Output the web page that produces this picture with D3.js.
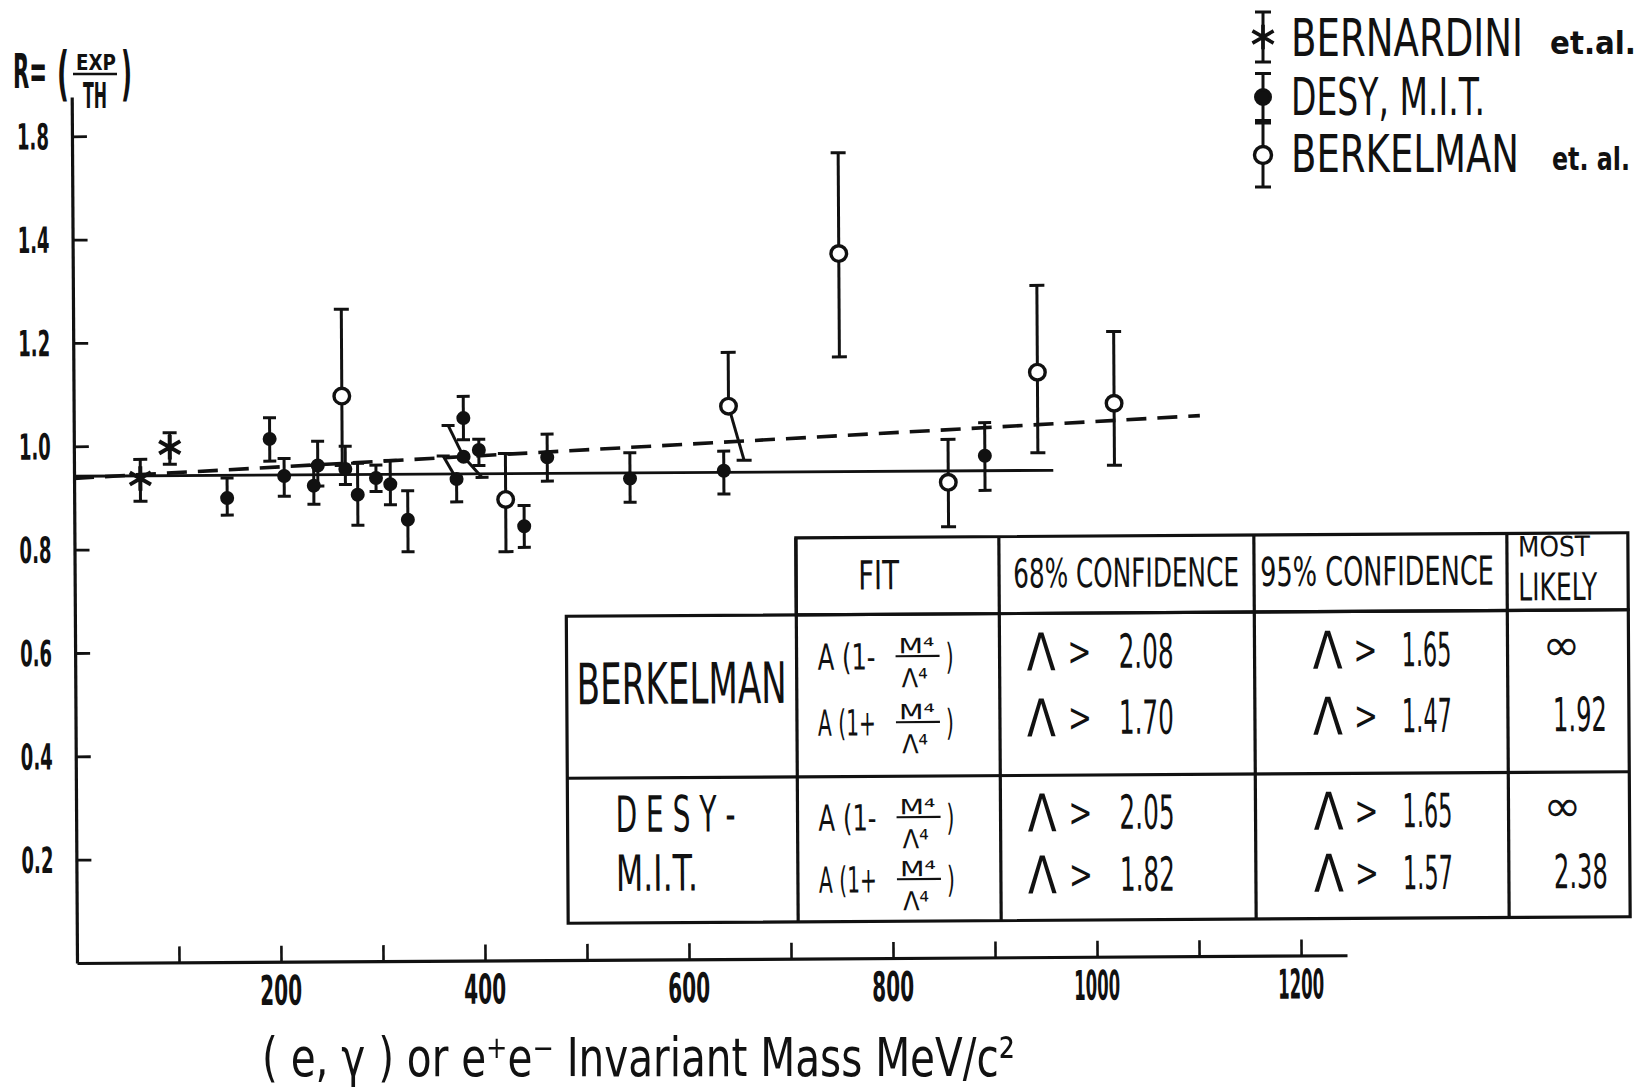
<!DOCTYPE html>
<html>
<head>
<meta charset="utf-8">
<script src="https://cdn.jsdelivr.net/npm/d3@7"></script>
<style>
  body { margin: 0; background: #fff; }
  text { font-family: "DejaVu Sans Condensed", "DejaVu Sans", sans-serif; fill: #111; }
</style>
</head>
<body>
<script>
// Values
const xTicks = [100, 200, 300, 400, 500, 600, 700, 800, 900, 1000, 1100, 1200];
const xLabelValues = [200, 400, 600, 800, 1000, 1200];
const xTickLabels = ["200", "400", "600", "800", "1000", "1200"];
const yTicks = [0.2, 0.4, 0.6, 0.8, 1.0, 1.2, 1.4, 1.6];
const yTickLabels = ["0.2", "0.4", "0.6", "0.8", "1.0", "1.2", "1.4", "1.8"]; // top label is printed "1.8" in the original

// BERNARDINI et al.
const bernMass = [65, 94];
const bernR = [0.937, 0.997];
const bernLow = [0.893, 0.964];
const bernHigh = [0.974, 1.025];

// DESY, M.I.T.
const desyMass = [150, 192, 206, 235, 239, 266, 278, 296, 310, 327, 375, 382, 382, 397, 441, 464, 545, 637, 893];
const desyR    = [0.898, 1.012, 0.940, 0.921, 0.960, 0.953, 0.903, 0.935, 0.923, 0.854, 0.932, 1.050, 0.975, 0.988, 0.840, 0.973, 0.931, 0.945, 0.971];
const desyLow  = [0.865, 0.969, 0.901, 0.885, 0.920, 0.923, 0.844, 0.909, 0.883, 0.792, 0.888, 1.008, 0.935, 0.958, 0.799, 0.927, 0.885, 0.900, 0.904];
const desyHigh = [0.937, 1.053, 0.974, 0.960, 1.007, 0.997, 0.964, 0.960, 0.969, 0.910, 0.977, 1.092, 1.036, 1.009, 0.880, 1.018, 0.981, 0.983, 1.035];
// a few bars are drawn slanted in the original (mass offset of the bar end)
const desyHighSlant = [0, 0, 0, 0, 0, 0, 0, 0, 0, 0, -13, 0, -15, 0, 0, 0, 0, 0, 0];
const desyLowSlant  = [0, 0, 0, 0, 0, 0, 0, 0, 0, 0, 0, 0, 18, 0, 0, 0, 0, 0, 0];

// BERKELMAN et al.
const berkMass = [263, 423, 642, 751, 857, 945, 1020];
const berkR    = [1.094, 0.892, 1.070, 1.364, 0.920, 1.132, 1.071];
const berkLow  = [0.960, 0.791, 0.965, 1.164, 0.834, 0.976, 0.951];
const berkHigh = [1.262, 0.981, 1.174, 1.559, 1.003, 1.300, 1.210];
const berkLowSlant = [0, 0, 15, 0, 0, 0, 0];

// fits
const fitSolidMass = [0, 960];
const fitSolidR = [0.942, 0.942];
const fitDashMass = [0, 1104];
const fitDashR = [0.938, 1.046];

// legend
const legendNames = ["BERNARDINI", "DESY, M.I.T.", "BERKELMAN"];
const legendNotes = ["et.al.", "", "et. al."];

// table
const tableHeaders = ["FIT", "68% CONFIDENCE", "95% CONFIDENCE"];
const fitSigns = ["-", "+", "-", "+"];
const conf68 = ["2.08", "1.70", "2.05", "1.82"];
const conf95 = ["1.65", "1.47", "1.65", "1.57"];
const mostLikely = ["∞", "1.92", "∞", "2.38"];

const ink = "#111";

const svg = d3.select("body").append("svg")
    .attr("width", 1641)
    .attr("height", 1091);
svg.append("rect").attr("width", 1641).attr("height", 1091).attr("fill", "#fff");

// put a text and squeeze it to the width it has in the figure
function label(parent, str, x, y, w, size, anchor = "start", weight = "bold") {
    const t = parent.append("text")
        .attr("font-size", size)
        .attr("font-weight", weight)
        .attr("text-anchor", anchor)
        .text(str);
    const k = w / t.node().getComputedTextLength();
    t.attr("transform", `translate(${x},${y}) scale(${k},1)`);
    return t;
}

const x = d3.scaleLinear().domain([0, 1245]).range([77, 1347]);
const y = d3.scaleLinear().domain([0, 1.676]).range([963, 97]);

// the scan is turned a little, the plot is turned with it
const plot = svg.append("g")
    .attr("transform", `rotate(-0.35, ${x(0)}, ${y(0)})`);

// Axes
plot.append("g")
    .attr("transform", "translate(0," + y(0) + ")")
    .call(d3.axisBottom(x).tickValues(xTicks).tickSizeInner(-16).tickSizeOuter(0).tickFormat(""))
    .call(g => g.select(".domain").attr("stroke", ink).attr("stroke-width", 3.2))
    .call(g => g.selectAll(".tick line").attr("stroke", ink).attr("stroke-width", 2.6));

plot.append("g")
    .attr("transform", "translate(" + x(0) + ",0)")
    .call(d3.axisLeft(y).tickValues(yTicks).tickSizeInner(-15).tickSizeOuter(0).tickFormat(""))
    .call(g => g.select(".domain").attr("stroke", ink).attr("stroke-width", 3.2))
    .call(g => g.selectAll(".tick line").attr("stroke", ink).attr("stroke-width", 2.8));

xLabelValues.forEach((v, i) =>
    label(plot, xTickLabels[i], x(v), 1006, xTickLabels[i].length > 3 ? 46 : 42, 41, "middle"));
yTicks.forEach((v, i) =>
    label(plot, yTickLabels[i], x(0) - 23, y(v) + 13, 32, 36, "end"));

// Fit lines
const line = d3.line().x(d => x(d[0])).y(d => y(d[1]));
plot.append("path")
    .attr("d", line(d3.zip(fitSolidMass, fitSolidR)))
    .attr("fill", "none").attr("stroke", ink).attr("stroke-width", 2.8);
plot.append("path")
    .attr("d", line(d3.zip(fitDashMass, fitDashR)))
    .attr("fill", "none").attr("stroke", ink).attr("stroke-width", 3.6)
    .attr("stroke-dasharray", "20 11");

function series(mass, r, lo, hi, loSlant, hiSlant) {
    return mass.map((m, i) => ({
        m: m, r: r[i], lo: lo[i], hi: hi[i],
        ls: loSlant ? loSlant[i] : 0,
        hs: hiSlant ? hiSlant[i] : 0
    }));
}
const bern = series(bernMass, bernR, bernLow, bernHigh);
const desy = series(desyMass, desyR, desyLow, desyHigh, desyLowSlant, desyHighSlant);
const berk = series(berkMass, berkR, berkLow, berkHigh, berkLowSlant);

function errorBars(pts, cap) {
    const g = plot.append("g").attr("stroke", ink).attr("stroke-width", 3);
    g.selectAll(".up").data(pts).join("line").attr("class", "up")
        .attr("x1", d => x(d.m)).attr("y1", d => y(d.r))
        .attr("x2", d => x(d.m + d.hs)).attr("y2", d => y(d.hi));
    g.selectAll(".down").data(pts).join("line").attr("class", "down")
        .attr("x1", d => x(d.m)).attr("y1", d => y(d.r))
        .attr("x2", d => x(d.m + d.ls)).attr("y2", d => y(d.lo));
    const ends = pts.flatMap(d => [[d.m + d.hs, d.hi], [d.m + d.ls, d.lo]]);
    g.selectAll(".cap").data(ends).join("line").attr("class", "cap")
        .attr("x1", d => x(d[0]) - cap).attr("x2", d => x(d[0]) + cap)
        .attr("y1", d => y(d[1])).attr("y2", d => y(d[1]));
}
errorBars(bern, 7);
errorBars(desy, 6.5);
errorBars(berk, 7.5);

// Markers
plot.append("g").selectAll("path").data(bern).join("path")
    .attr("transform", d => `translate(${x(d.m)},${y(d.r)})`)
    .attr("d", d3.symbol(d3.symbolAsterisk, 420))
    .attr("fill", "none").attr("stroke", ink).attr("stroke-width", 4);
plot.append("g").selectAll("circle").data(desy).join("circle")
    .attr("cx", d => x(d.m)).attr("cy", d => y(d.r))
    .attr("r", 7).attr("fill", ink);
plot.append("g").selectAll("circle").data(berk).join("circle")
    .attr("cx", d => x(d.m)).attr("cy", d => y(d.r))
    .attr("r", 7.8).attr("fill", "#fff").attr("stroke", ink).attr("stroke-width", 3.4);

// Axis titles
label(svg, "R=", 13, 88, 34, 48);
label(svg, "(", 57, 94, 12, 58);
label(svg, "EXP", 76, 70, 40, 22);
svg.append("line").attr("x1", 73).attr("x2", 117).attr("y1", 74).attr("y2", 74)
    .attr("stroke", ink).attr("stroke-width", 2.4);
label(svg, "TH", 83, 108, 24, 36);
label(svg, ")", 121, 94, 11, 58);

label(svg, "( e, γ ) or e⁺e⁻ Invariant Mass  MeV/c²", 262, 1076, 753, 54, "start", "normal");

// Legend
const legendY = [37, 97, 155];
const legendBar = [25, 23.5, 32];
const legend = svg.append("g").attr("stroke", ink).attr("stroke-width", 3);
legendY.forEach((ly, i) => {
    legend.append("line").attr("x1", 1263).attr("x2", 1263)
        .attr("y1", ly - legendBar[i]).attr("y2", ly + legendBar[i]);
    [ly - legendBar[i], ly + legendBar[i]].forEach(cy =>
        legend.append("line").attr("x1", 1255).attr("x2", 1271).attr("y1", cy).attr("y2", cy));
});
legend.append("path").attr("transform", `translate(1263,${legendY[0]})`)
    .attr("d", d3.symbol(d3.symbolAsterisk, 420)).attr("fill", "none").attr("stroke-width", 3.6);
legend.append("circle").attr("cx", 1263).attr("cy", legendY[1]).attr("r", 7.5).attr("fill", ink);
legend.append("circle").attr("cx", 1263).attr("cy", legendY[2]).attr("r", 8.5)
    .attr("fill", "#fff").attr("stroke-width", 3.4);

const legendBase = [56, 115, 172];
const legendW = [232, 194, 228];
const noteX = [1550, 0, 1552];
const noteW = [86, 0, 78];
legendNames.forEach((n, i) => {
    label(svg, n, 1291, legendBase[i], legendW[i], 52, "start", "normal");
    if (legendNotes[i]) label(svg, legendNotes[i], noteX[i], legendBase[i] - 2, noteW[i], 32);
});

// Table of fit results
const table = svg.append("g").attr("transform", "rotate(-0.35, 1098, 728)");
const colX = [567, 797, 1000, 1255, 1508, 1629];
const rowY = [536, 613, 775, 920];
const grid = table.append("g").attr("stroke", ink).attr("stroke-width", 3.2).attr("fill", "none");
grid.append("rect").attr("x", colX[1]).attr("y", rowY[0])
    .attr("width", colX[5] - colX[1]).attr("height", rowY[1] - rowY[0]);
grid.append("rect").attr("x", colX[0]).attr("y", rowY[1])
    .attr("width", colX[5] - colX[0]).attr("height", rowY[3] - rowY[1]);
grid.append("line").attr("x1", colX[0]).attr("x2", colX[5]).attr("y1", rowY[2]).attr("y2", rowY[2]);
[colX[2], colX[3], colX[4]].forEach(cx =>
    grid.append("line").attr("x1", cx).attr("x2", cx).attr("y1", rowY[0]).attr("y2", rowY[3]));
grid.append("line").attr("x1", colX[1]).attr("x2", colX[1]).attr("y1", rowY[0]).attr("y2", rowY[3]);

label(table, tableHeaders[0], 859, 588, 41, 40, "start", "normal");
label(table, tableHeaders[1], 1014, 587, 226, 40, "start", "normal");
label(table, tableHeaders[2], 1261, 587, 234, 40, "start", "normal");
label(table, "MOST", 1519, 559, 72, 28, "start", "normal");
label(table, "LIKELY", 1519, 603, 79, 38, "start", "normal");

label(table, "BERKELMAN", 577, 701, 210, 57, "start", "normal");
label(table, "D E S Y -", 615, 829, 120, 50, "start", "normal");
label(table, "M.I.T.", 615, 888, 82, 50, "start", "normal");

const rowBase = [667, 733, 828, 890];
rowBase.forEach((b, i) => {
    // fit form A(1 -/+ M^4/Λ^4)
    label(table, "A (1" + fitSigns[i], 818, b + 1, 58, 36, "start", "normal");
    label(table, "M⁴", 917, b - 15, 36, 21, "middle", "normal");
    table.append("line").attr("x1", 896).attr("x2", 940).attr("y1", b - 12).attr("y2", b - 12)
        .attr("stroke", ink).attr("stroke-width", 2.2);
    label(table, "Λ⁴", 915, b + 19, 26, 26, "middle", "normal");
    label(table, ")", 946, b + 1, 8, 36, "start", "normal");

    label(table, "Λ", 1027, b + 3, 29, 52, "start", "normal");
    label(table, ">", 1068, b - 2, 24, 40, "start", "normal");
    label(table, conf68[i], 1119, b + 1, 55, 47, "start", "normal");

    label(table, "Λ", 1313, b + 3, 30, 52, "start", "normal");
    label(table, ">", 1354, b - 2, 24, 40, "start", "normal");
    label(table, conf95[i], 1402, b + 1, 50, 47, "start", "normal");

    if (mostLikely[i] === "∞") label(table, mostLikely[i], 1562, b - 4, 38, 44, "middle", "normal");
    else label(table, mostLikely[i], 1580, b + 1, 54, 47, "middle", "normal");
});
</script>
</body>
</html>
